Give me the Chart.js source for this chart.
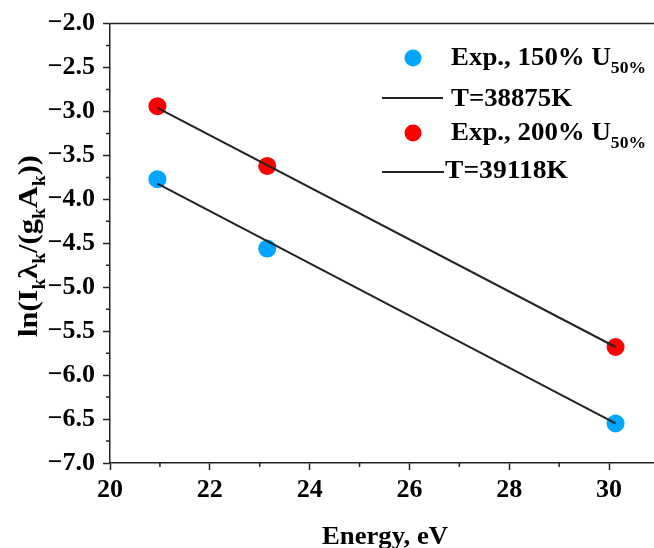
<!DOCTYPE html>
<html>
<head>
<meta charset="utf-8">
<script src="https://cdn.jsdelivr.net/npm/chart.js@4"></script>
<style>
  body { margin: 0; background: #fff; }
</style>
</head>
<body>
<canvas id="chart" width="654" height="548"></canvas>
<script>
// Energy of the upper levels, eV
const energy = [20.95, 23.15, 30.13];
// ln(I*lambda/(g*A)) for the two voltages
const lnExp150 = [-3.77, -4.56, -6.55];
const lnExp200 = [-2.94, -3.62, -5.68];
// Boltzmann fit lines (end points)
const fitEnergy = [20.95, 30.13];
const fit150 = [-3.82, -6.55];
const fit200 = [-2.96, -5.68];

const xMajorTicks = [20, 22, 24, 26, 28, 30];
const xMinorTicks = [21, 23, 25, 27, 29];
const yMajorTicks = [-7.0, -6.5, -6.0, -5.5, -5.0, -4.5, -4.0, -3.5, -3.0, -2.5, -2.0];
const yMinorTicks = [-6.75, -6.25, -5.75, -5.25, -4.75, -4.25, -3.75, -3.25, -2.75, -2.25];

const FONT = '"Liberation Serif", "Times New Roman", serif';
const INK = '#222';

const toPts = (xs, ys) => xs.map((x, i) => ({ x: x, y: ys[i] }));

function drawRich(ctx, parts, x, y, size, subSize, target) {
    ctx.save();
    let w = 0;
    parts.forEach(p => {
        ctx.font = `bold ${p.sub ? subSize : size}px ${FONT}`;
        w += ctx.measureText(p.t).width;
    });
    const sx = target ? target / w : 1;
    ctx.translate(x, y);
    ctx.scale(sx, 1);
    ctx.fillStyle = '#000';
    ctx.textBaseline = 'alphabetic';
    ctx.textAlign = 'left';
    let cx = 0;
    parts.forEach(p => {
        ctx.font = `bold ${p.sub ? subSize : size}px ${FONT}`;
        ctx.fillText(p.t, cx, p.sub ? Math.round(size * 0.3) : 0);
        cx += ctx.measureText(p.t).width;
    });
    ctx.restore();
}

const decor = {
    id: 'decor',
    afterDraw(chart) {
        const ctx = chart.ctx;
        const area = chart.chartArea;
        const xs = chart.scales.x, ys = chart.scales.y;
        ctx.save();
        ctx.strokeStyle = INK;
        ctx.lineWidth = 1.5;
        // top frame line
        ctx.beginPath();
        ctx.moveTo(area.left, area.top);
        ctx.lineTo(area.right, area.top);
        ctx.stroke();
        // minor ticks
        ctx.beginPath();
        xMinorTicks.forEach(v => {
            const px = xs.getPixelForValue(v);
            ctx.moveTo(px, area.bottom);
            ctx.lineTo(px, area.bottom + 4);
        });
        yMinorTicks.forEach(v => {
            const py = ys.getPixelForValue(v);
            ctx.moveTo(area.left, py);
            ctx.lineTo(area.left - 4, py);
        });
        ctx.stroke();
        ctx.restore();

        // y axis title with subscripts
        ctx.save();
        ctx.translate(37, 337);
        ctx.rotate(-Math.PI / 2);
        drawRich(ctx, [
            { t: 'ln(I' }, { t: 'k', sub: true }, { t: 'λ' }, { t: 'k', sub: true },
            { t: '/(g' }, { t: 'k', sub: true }, { t: 'A' }, { t: 'k', sub: true }, { t: '))' }
        ], 0, 0, 28, 18, 182);
        ctx.restore();

        // x axis title
        drawRich(ctx, [{ t: 'Energy, eV' }], 322, 544, 26, 17, 126);

        // legend
        ctx.save();
        ctx.fillStyle = chart.data.datasets[2].backgroundColor;
        ctx.beginPath(); ctx.arc(413, 58, 8.5, 0, Math.PI * 2); ctx.fill();
        ctx.fillStyle = chart.data.datasets[3].backgroundColor;
        ctx.beginPath(); ctx.arc(413, 133, 8.5, 0, Math.PI * 2); ctx.fill();
        ctx.strokeStyle = INK;
        ctx.lineWidth = 2;
        ctx.beginPath();
        ctx.moveTo(382, 98); ctx.lineTo(443, 98);
        ctx.moveTo(382, 172); ctx.lineTo(444, 172);
        ctx.stroke();
        ctx.restore();
        drawRich(ctx, [{ t: 'Exp., 150% U' }, { t: '50%', sub: true }], 451, 65, 26, 17, 195);
        drawRich(ctx, [{ t: 'T=38875K' }], 451, 106, 26, 17, 121);
        drawRich(ctx, [{ t: 'Exp., 200% U' }, { t: '50%', sub: true }], 451, 140, 26, 17, 195);
        drawRich(ctx, [{ t: 'T=39118K' }], 445, 178, 26, 17, 123);
    }
};

new Chart(document.getElementById('chart'), {
    type: 'scatter',
    data: {
        datasets: [
            {
                label: 'T=38875K', type: 'line', data: toPts(fitEnergy, fit150),
                borderColor: INK, borderWidth: 2, pointRadius: 0, order: 0
            },
            {
                label: 'T=39118K', type: 'line', data: toPts(fitEnergy, fit200),
                borderColor: INK, borderWidth: 2, pointRadius: 0, order: 0
            },
            {
                label: 'Exp., 150% U50%', data: toPts(energy, lnExp150),
                backgroundColor: 'rgb(0,166,255)', borderWidth: 0, pointRadius: 9, order: 1
            },
            {
                label: 'Exp., 200% U50%', data: toPts(energy, lnExp200),
                backgroundColor: 'rgb(255,0,0)', borderWidth: 0, pointRadius: 9, order: 1
            }
        ]
    },
    options: {
        responsive: false,
        animation: false,
        layout: { autoPadding: false, padding: { left: 0, top: 22, right: 0, bottom: 0 } },
        plugins: {
            legend: { display: false },
            tooltip: { enabled: false }
        },
        scales: {
            x: {
                type: 'linear',
                min: 20,
                max: 30.9,
                afterBuildTicks: s => { s.ticks = xMajorTicks.map(v => ({ value: v })); },
                afterFit: s => { s.height = 85; },
                ticks: {
                    autoSkip: false,
                    maxRotation: 0,
                    padding: 5,
                    color: '#000',
                    font: { family: FONT, size: 26, weight: 'bold' },
                    callback: v => String(v)
                },
                grid: { drawOnChartArea: false, tickLength: 7, tickWidth: 1.5, tickColor: INK },
                border: { color: INK, width: 1.5 }
            },
            y: {
                min: -7,
                max: -2,
                afterBuildTicks: s => { s.ticks = yMajorTicks.map(v => ({ value: v })); },
                afterFit: s => { s.width = 110; },
                ticks: {
                    autoSkip: false,
                    padding: 8,
                    color: '#000',
                    font: { family: FONT, size: 26, weight: 'bold' },
                    callback: v => '\u2212' + Math.abs(v).toFixed(1)
                },
                grid: { drawOnChartArea: false, tickLength: 7, tickWidth: 1.5, tickColor: INK },
                border: { color: INK, width: 1.5 }
            }
        }
    },
    plugins: [decor]
});
</script>
</body>
</html>
